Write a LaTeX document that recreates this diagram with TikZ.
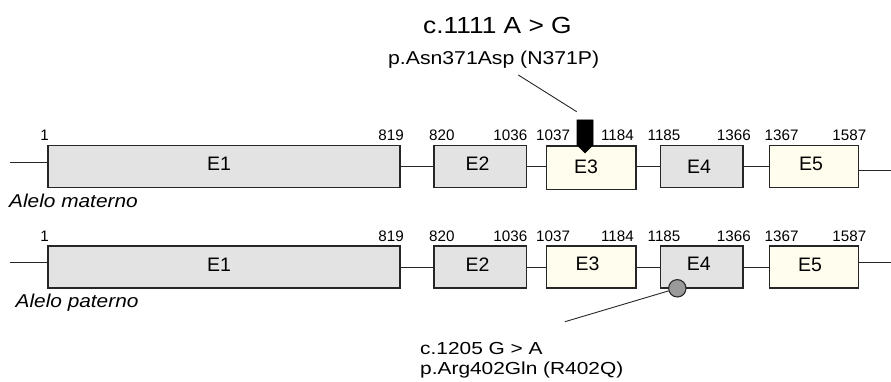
\documentclass[tikz,border=0pt]{standalone}
\usepackage{fontspec}
\setmainfont{Liberation Sans}
\definecolor{exgray}{HTML}{E3E3E3}
\definecolor{excream}{HTML}{FFFDEE}
\definecolor{dotgray}{HTML}{9A9A9A}
\definecolor{edge}{HTML}{262626}
\newcommand{\ftxt}[3]{\scalebox{#1}[1]{\fontsize{#2}{#2}\selectfont #3}}
\tikzset{
  exon/.style={draw=edge, line width=1.2pt, inner sep=0pt, minimum height=42pt},
  grayexon/.style={exon, fill=exgray},
  creamexon/.style={exon, fill=excream},
  intron/.style={draw=edge, line width=1pt},
  num/.style={inner sep=0pt, font=\fontsize{15.2}{15.2}\selectfont},
  exlab/.style={inner sep=0pt, anchor=base, font=\fontsize{19.5}{19.5}\selectfont},
  txt/.style={inner sep=0pt, anchor=base west},
  pointer/.style={draw=edge, line width=0.9pt}
}
\begin{document}
\begin{tikzpicture}[x=1pt,y=-1pt]
\useasboundingbox (0,0) rectangle (891,382);
% ---------- maternal allele ----------
\node[grayexon, minimum width=352pt] (m1) at (224,166.5) {};
\node[grayexon, minimum width=92.7pt] (m2) at (480.3,166.5) {};
\node[creamexon, minimum width=89.3pt, minimum height=43.3pt] (m3) at (591.3,167.6) {};
\node[grayexon, minimum width=82.3pt] (m4) at (701.8,166.5) {};
\node[creamexon, minimum width=89pt] (m5) at (813.8,166.5) {};
\coordinate (mL) at (10,163);
\coordinate (mR) at (891,170.7);
\draw[intron] (mL) -- (mL -| m1.west);
\draw[intron] (m1.east) -- (m2.west);
\draw[intron] (m2.east) -- (m3.west |- m2.east);
\draw[intron] (m3.east |- m4.west) -- (m4.west);
\draw[intron] (m4.east) -- (m5.west);
\draw[intron] (m5.east |- mR) -- (mR);
\node[exlab] (m1t) at (219,171) {E1};
\node[exlab] (m2t) at (477.5,170.7) {E2};
\node[exlab] (m3t) at (586,174) {E3};
\node[exlab] (m4t) at (699,173.3) {E4};
\node[exlab] (m5t) at (811,171) {E5};
\node[num, anchor=base east] (mn1) at (49,141) {1};
\node[num, anchor=base east] (mn2) at (404,141) {819};
\node[num, anchor=base west] (mn3) at (429,141) {820};
\node[num, anchor=base east] (mn4) at (527.5,141) {1036};
\node[num, anchor=base west] (mn5) at (536,141) {1037};
\node[num, anchor=base east] (mn6) at (634,141) {1184};
\node[num, anchor=base west] (mn7) at (647.5,141) {1185};
\node[num, anchor=base east] (mn8) at (751,141) {1366};
\node[num, anchor=base west] (mn9) at (764.5,141) {1367};
\node[num, anchor=base east] (mn10) at (866.5,141) {1587};
\node[txt] (mat) at (9,207.3) {\ftxt{1.12}{18.6}{\itshape Alelo materno}};
% mutation marker on E3
\filldraw[fill=black, draw=black, line width=0.6pt] (577,120) -- (593,120) -- (593,145) -- (585,153) -- (577,145) -- cycle;
\node[txt] (t1) at (423,33.3) {\ftxt{1.13}{23.3}{c.1111 A > G}};
\node[txt] (t2) at (388,65) {\ftxt{1.14}{18.6}{p.Asn371Asp (N371P)}};
\coordinate (p1a) at (518.3,75);
\coordinate (p1b) at (576.7,111.7);
\draw[pointer] (p1a) -- (p1b);
% ---------- paternal allele ----------
\node[grayexon, minimum width=352pt] (p1) at (224,267) {};
\node[grayexon, minimum width=92.7pt] (p2) at (480.3,267) {};
\node[creamexon, minimum width=89.3pt] (p3) at (591.3,267) {};
\node[grayexon, minimum width=82.3pt] (p4) at (701.8,267) {};
\node[creamexon, minimum width=89pt] (p5) at (813.8,267) {};
\coordinate (pL) at (10,262.7);
\coordinate (pR) at (891,262.7);
\draw[intron] (pL) -- (pL -| p1.west);
\draw[intron] (p1.east) -- (p2.west);
\draw[intron] (p2.east) -- (p3.west);
\draw[intron] (p3.east) -- (p4.west);
\draw[intron] (p4.east) -- (p5.west);
\draw[intron] (p5.east |- pR) -- (pR);
\node[exlab] (p1t) at (219,271.7) {E1};
\node[exlab] (p2t) at (477.5,271.7) {E2};
\node[exlab] (p3t) at (587.5,270.7) {E3};
\node[exlab] (p4t) at (698.7,270) {E4};
\node[exlab] (p5t) at (810,271.7) {E5};
\node[num, anchor=base east] (pn1) at (49,241.5) {1};
\node[num, anchor=base east] (pn2) at (404,241.5) {819};
\node[num, anchor=base west] (pn3) at (429,241.5) {820};
\node[num, anchor=base east] (pn4) at (527.5,241.5) {1036};
\node[num, anchor=base west] (pn5) at (536,241.5) {1037};
\node[num, anchor=base east] (pn6) at (634,241.5) {1184};
\node[num, anchor=base west] (pn7) at (647.5,241.5) {1185};
\node[num, anchor=base east] (pn8) at (751,241.5) {1366};
\node[num, anchor=base west] (pn9) at (764.5,241.5) {1367};
\node[num, anchor=base east] (pn10) at (866.5,241.5) {1587};
\node[txt] (pat) at (15.5,307.3) {\ftxt{1.12}{18.6}{\itshape Alelo paterno}};
% mutation marker on E4
\node[circle, draw=edge, line width=1.1pt, fill=dotgray, minimum size=17.4pt, inner sep=0pt] (mut2) at (677.3,288.3) {};
\coordinate (p2b) at (565,321.7);
\draw[pointer] (mut2) -- (p2b);
\node[txt] (t3) at (420,354) {\ftxt{1.2}{17.4}{c.1205 G > A}};
\node[txt] (t4) at (420,374) {\ftxt{1.2}{17.4}{p.Arg402Gln (R402Q)}};
\end{tikzpicture}
\end{document}
